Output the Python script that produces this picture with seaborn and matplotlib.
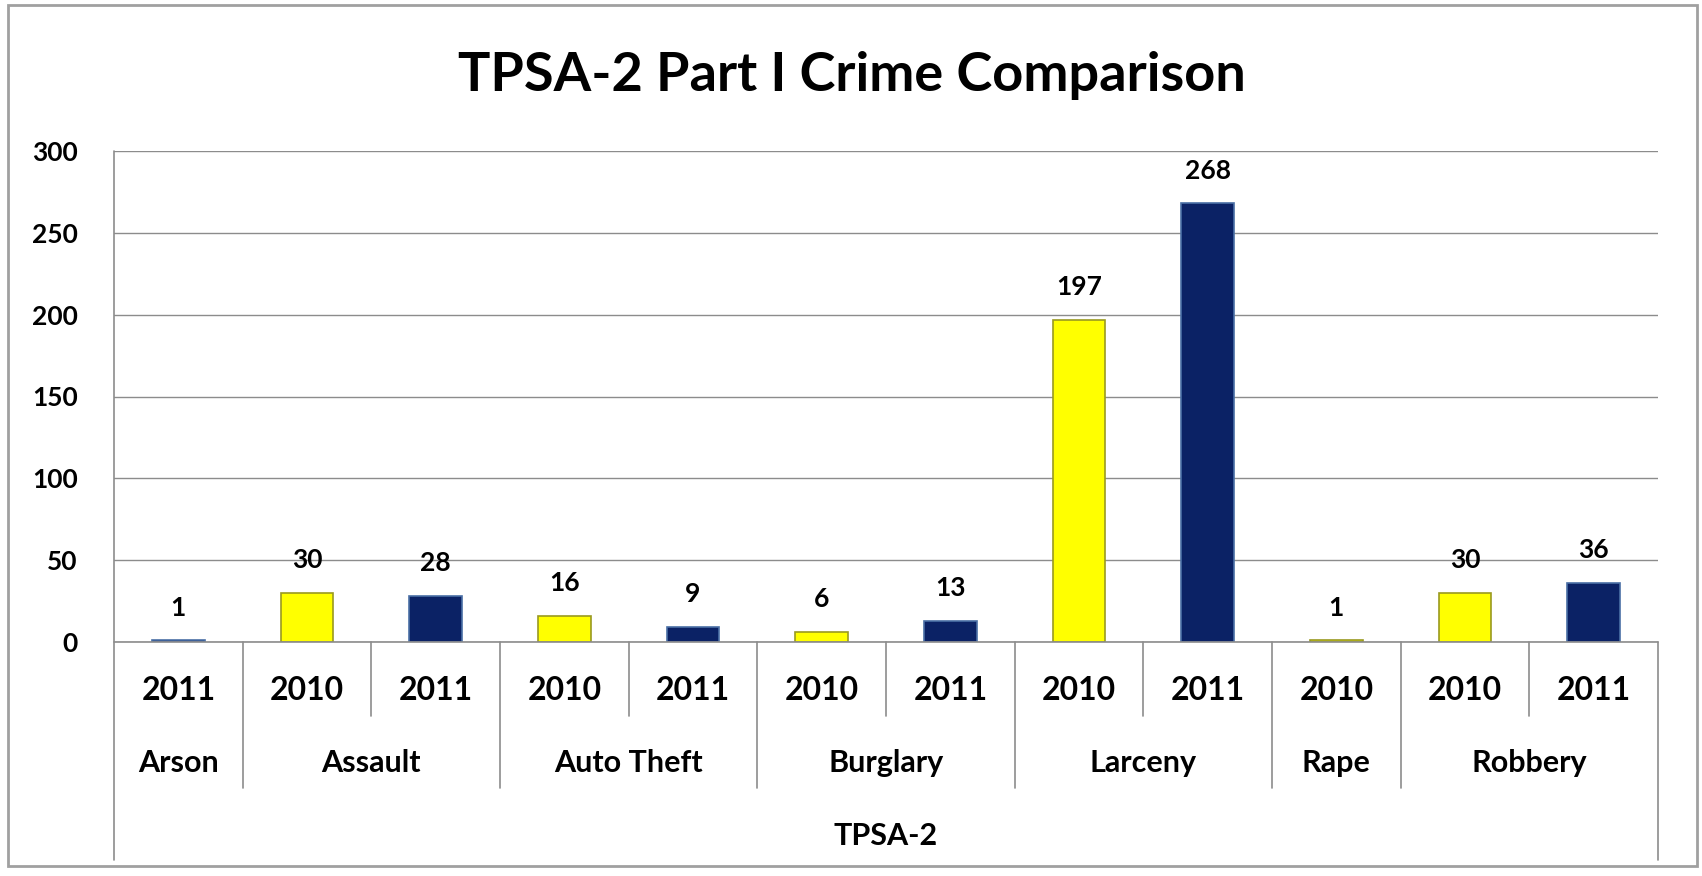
import pandas as pd
import matplotlib.pyplot as plt
import seaborn as sns
from matplotlib.patches import Rectangle

# datos
crimes = ["Arson", "Assault", "Assault", "Auto Theft", "Auto Theft", "Burglary", "Burglary",
          "Larceny", "Larceny", "Rape", "Robbery", "Robbery"]
years = ["2011", "2010", "2011", "2010", "2011", "2010", "2011", "2010", "2011", "2010", "2010", "2011"]
counts = [1, 30, 28, 16, 9, 6, 13, 197, 268, 1, 30, 36]
group_name = "TPSA-2"
yticks = [0, 50, 100, 150, 200, 250, 300]

sns.set_style("white")
plt.rcParams['font.family'] = ['Lato', 'DejaVu Sans']
plt.rcParams['text.color'] = 'black'
plt.rcParams['ytick.labelcolor'] = 'black'

df = pd.DataFrame({"crime": crimes, "year": years, "count": counts})
df["slot"] = [c + " " + y for c, y in zip(crimes, years)]

W, H = 1702, 876
fig = plt.figure(figsize=(W / 100, H / 100), dpi=100)
ax = fig.add_axes([114 / W, 1 - 642 / H, (1658 - 114) / W, (642 - 151) / H])

hue_order = ["2010", "2011"]
sns.barplot(data=df, x="slot", y="count", hue="year", hue_order=hue_order,
            palette={"2010": "#ffff00", "2011": "#0b2265"}, saturation=1,
            dodge=False, width=0.41, legend=False, ax=ax)

edges = {"2010": "#9a9a20", "2011": "#4a6fa5"}
for cont, yr in zip(ax.containers, hue_order):
    for p in cont:
        p.set_edgecolor(edges[yr])
        p.set_linewidth(1.2)
    ax.bar_label(cont, padding=15, fontsize=19, fontweight='bold', color='black')

ax.set_xlim(-0.5, len(counts) - 0.5)
ax.set_ylim(0, 300)
ax.set_yticks(yticks)
ax.yaxis.grid(True, color='#8c8c8c', linewidth=1.0)
ax.set_axisbelow(True)
for s in ax.spines.values():
    s.set_visible(False)
ax.tick_params(axis='y', length=10, width=1.0, color='#8c8c8c', pad=16, labelsize=19)
for lab in ax.get_yticklabels():
    lab.set_fontweight('bold')
ax.set_xticks([])
ax.set_xlabel("")
ax.set_ylabel("")

# tabla del eje x
tr = ax.get_xaxis_transform()
line_kw = dict(color='#8c8c8c', linewidth=1.2, clip_on=False, transform=tr)
y_short, y_group, y_end = -0.1507, -0.297, -0.444
ax.plot([-0.5, -0.5], [1, y_end], **line_kw)
ax.plot([len(counts) - 0.5, len(counts) - 0.5], [0, y_end], **line_kw)
ax.plot([-0.5, len(counts) - 0.5], [0, 0], **line_kw)
for i in range(1, len(counts)):
    same = crimes[i] == crimes[i - 1]
    ax.plot([i - 0.5, i - 0.5], [0, y_short if same else y_group], **line_kw)

for i, y in enumerate(years):
    ax.text(i, -0.0978, y, transform=tr, ha='center', va='center', fontsize=23, fontweight='bold')

groups = {}
for i, c in enumerate(crimes):
    groups.setdefault(c, []).append(i)
for c, idx in groups.items():
    ax.text(sum(idx) / len(idx), -0.2464, c, transform=tr, ha='center', va='center',
            fontsize=22, fontweight='bold')
ax.text((len(counts) - 1) / 2, -0.395, group_name, transform=tr, ha='center', va='center',
        fontsize=22, fontweight='bold')

fig.text(852 / W, 1 - 76 / H, "TPSA-2 Part I Crime Comparison", ha='center', va='center',
         fontsize=39, fontweight='bold')

fig.patches.append(Rectangle((8 / W, 1 - 866 / H), (1697 - 8) / W, (866 - 5) / H, transform=fig.transFigure,
                             fill=False, edgecolor='#a0a0a0', linewidth=2))

plt.savefig("out.png", dpi=100)
